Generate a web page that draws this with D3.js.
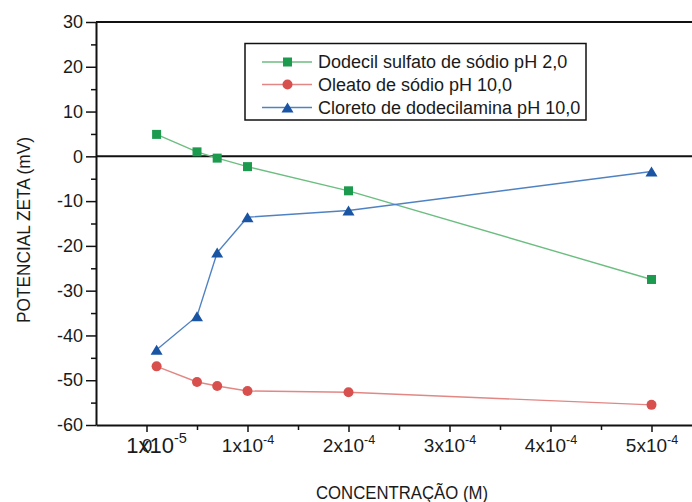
<!DOCTYPE html>
<html>
<head>
<meta charset="utf-8">
<script src="https://cdn.jsdelivr.net/npm/d3@7/dist/d3.min.js"></script>
<style>
  html, body { margin: 0; padding: 0; background: #fff; }
  svg { display: block; font-family: "Liberation Sans", Arial, sans-serif; }
</style>
</head>
<body>
<svg id="chart" width="692" height="502"></svg>
<script>
// Concentration of collector (M) and zeta potential (mV) of each system
const concentracao = [1e-5, 5e-5, 7e-5, 1e-4, 2e-4, 5e-4];
const dodecilSulfato = [4.9, 1.0, -0.4, -2.3, -7.7, -27.5];
const oleato = [-46.9, -50.4, -51.3, -52.4, -52.7, -55.5];
const cloreto = [-43.2, -35.7, -21.5, -13.6, -12.1, -3.4];

const seriesNames = [
  "Dodecil sulfato de sódio pH 2,0",
  "Oleato de sódio pH 10,0",
  "Cloreto de dodecilamina pH 10,0"
];

const xTicks = [0, 1e-4, 2e-4, 3e-4, 4e-4, 5e-4];
const xTickLabels = ["0", "1x10|-4", "2x10|-4", "3x10|-4", "4x10|-4", "5x10|-4"];
const xMinorTicks = [0.5e-4, 1.5e-4, 2.5e-4, 3.5e-4, 4.5e-4];
const yTicks = [-60, -50, -40, -30, -20, -10, 0, 10, 20, 30];
const yMinorTicks = [-55, -45, -35, -25, -15, -5, 5, 15, 25];

const series = [
  { name: seriesNames[0], values: dodecilSulfato, marker: "square",   fill: "#1c9a4e", line: "#6cbd80" },
  { name: seriesNames[1], values: oleato,         marker: "circle",   fill: "#d8504e", line: "#e28784" },
  { name: seriesNames[2], values: cloreto,        marker: "triangle", fill: "#1a55a3", line: "#4f82c2" }
];

const svg = d3.select("#chart");

const x = d3.scaleLinear().domain([-0.5e-4, 5.5e-4]).range([96, 702]);
const y = d3.scaleLinear().domain([-60, 30]).range([425, 22]);

// Plot frame: top border and zero reference line
svg.append("line")
  .attr("x1", x.range()[0]).attr("x2", x.range()[1])
  .attr("y1", y(30)).attr("y2", y(30))
  .attr("stroke", "#111").attr("stroke-width", 2);
svg.append("line")
  .attr("x1", x.range()[0]).attr("x2", x.range()[1])
  .attr("y1", y(0)).attr("y2", y(0))
  .attr("stroke", "#111").attr("stroke-width", 2);

// Y axis (major ticks with labels, minor ticks without)
const yAxis = svg.append("g")
  .attr("transform", `translate(${x.range()[0]},0)`)
  .call(d3.axisLeft(y).tickValues(yTicks).tickSize(10).tickSizeOuter(0).tickPadding(3).tickFormat(d3.format("d")));
svg.append("g")
  .attr("transform", `translate(${x.range()[0]},0)`)
  .call(d3.axisLeft(y).tickValues(yMinorTicks).tickSize(5).tickFormat(""))
  .call(g => g.select(".domain").remove());
yAxis.select(".domain").attr("stroke", "#111").attr("stroke-width", 2);
yAxis.selectAll(".tick text")
  .attr("font-size", 18).attr("fill", "#1a1a1a")
  .attr("font-family", "'Liberation Sans', Arial, sans-serif")
  .text(d => d === 0 ? "0" : (d < 0 ? "-" + Math.abs(d) : String(d)));

// X axis
const xAxis = svg.append("g")
  .attr("transform", `translate(0,${y(-60)})`)
  .call(d3.axisBottom(x).tickValues(xTicks).tickSize(7).tickSizeOuter(0).tickPadding(7).tickFormat((d, i) => xTickLabels[i]));
svg.append("g")
  .attr("transform", `translate(0,${y(-60)})`)
  .call(d3.axisBottom(x).tickValues(xMinorTicks).tickSize(5).tickFormat(""))
  .call(g => g.select(".domain").remove());
xAxis.select(".domain").attr("stroke", "#111").attr("stroke-width", 2);
svg.selectAll(".tick line").attr("stroke", "#111").attr("stroke-width", 1.5);

function writePower(sel, label, size) {
  const parts = label.split("|");
  sel.text(null);
  sel.append("tspan").text(parts[0]);
  if (parts.length > 1) {
    sel.append("tspan").attr("font-size", size * 0.66).attr("dy", -size * 0.45).text(parts[1]);
  }
}

xAxis.selectAll(".tick text")
  .attr("font-size", 19).attr("fill", "#1a1a1a")
  .attr("font-family", "'Liberation Sans', Arial, sans-serif")
  .each(function (d, i) { writePower(d3.select(this), xTickLabels[i], 19); });

// Label of the lowest concentration, written over the axis origin
const lowLabel = svg.append("text")
  .attr("x", x(concentracao[0]))
  .attr("y", 453)
  .attr("text-anchor", "middle")
  .attr("font-size", 22)
  .attr("fill", "#1a1a1a");
writePower(lowLabel, "1x10|-5", 22);

// Axis titles
svg.append("text")
  .attr("x", 402).attr("y", 499)
  .attr("text-anchor", "middle")
  .attr("font-size", 18)
  .attr("textLength", 172).attr("lengthAdjust", "spacingAndGlyphs")
  .attr("fill", "#1a1a1a")
  .text("CONCENTRAÇÃO (M)");

svg.append("text")
  .attr("transform", "translate(30,230) rotate(-90)")
  .attr("text-anchor", "middle")
  .attr("font-size", 18)
  .attr("textLength", 186).attr("lengthAdjust", "spacingAndGlyphs")
  .attr("fill", "#1a1a1a")
  .text("POTENCIAL ZETA (mV)");

// Marker shapes
function drawMarker(g, kind, cx, cy, fill) {
  if (kind === "square") {
    g.append("rect").attr("x", cx - 4.5).attr("y", cy - 4.5).attr("width", 9).attr("height", 9).attr("fill", fill);
  } else if (kind === "circle") {
    g.append("circle").attr("cx", cx).attr("cy", cy).attr("r", 5).attr("fill", fill);
  } else {
    g.append("path")
      .attr("d", `M${cx},${cy - 5}L${cx + 6},${cy + 5}L${cx - 6},${cy + 5}Z`)
      .attr("fill", fill);
  }
}

// Series lines and markers
const line = d3.line().x(d => x(d[0])).y(d => y(d[1]));
series.forEach(s => {
  const pts = concentracao.map((c, i) => [c, s.values[i]]);
  svg.append("path")
    .datum(pts)
    .attr("d", line)
    .attr("fill", "none")
    .attr("stroke", s.line)
    .attr("stroke-width", 1.4);
  const g = svg.append("g");
  pts.forEach(p => drawMarker(g, s.marker, x(p[0]), y(p[1]), s.fill));
});

// Legend
const legend = svg.append("g");
legend.append("rect")
  .attr("x", 245).attr("y", 43.5).attr("width", 341).attr("height", 76.5)
  .attr("fill", "#fff").attr("stroke", "#111").attr("stroke-width", 1.5);
const rowY = [62, 84.5, 107.5];
series.forEach((s, i) => {
  const ry = rowY[i];
  legend.append("line")
    .attr("x1", 262).attr("x2", 312).attr("y1", ry).attr("y2", ry)
    .attr("stroke", s.line).attr("stroke-width", 1.4);
  drawMarker(legend, s.marker, 287.5, ry, s.fill);
  legend.append("text")
    .attr("x", 318).attr("y", ry).attr("dy", "0.36em")
    .attr("font-size", 18).attr("fill", "#1a1a1a")
    .text(s.name);
});
</script>
</body>
</html>
